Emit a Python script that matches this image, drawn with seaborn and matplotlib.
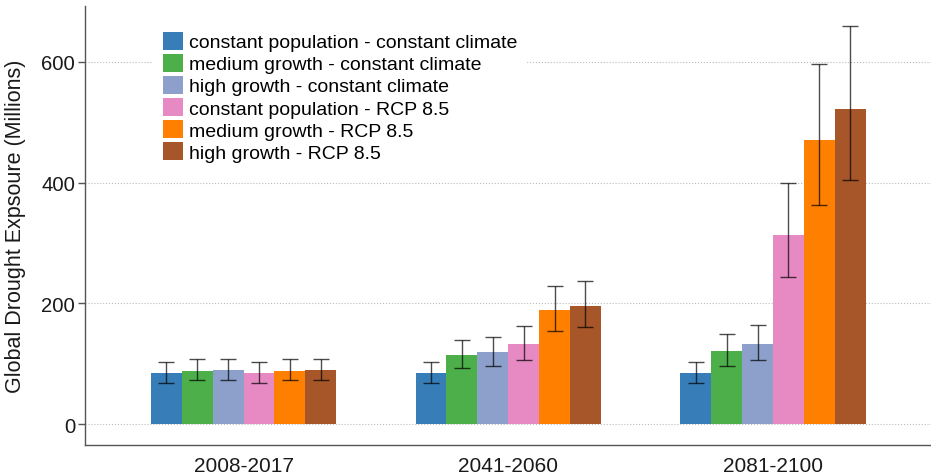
import matplotlib
matplotlib.use("Agg")
import matplotlib.pyplot as plt
import seaborn as sns
import pandas as pd
import numpy as np

periods = ["2008-2017", "2041-2060", "2081-2100"]
scenarios = [
    "constant population - constant climate",
    "medium growth - constant climate",
    "high growth - constant climate",
    "constant population - RCP 8.5",
    "medium growth - RCP 8.5",
    "high growth - RCP 8.5",
]
colors = ["#377eb8", "#4daf4a", "#8da0cb", "#e78ac3", "#ff7f00", "#a65628"]

# values[scenario][period]
values = [
    [85, 85, 85],
    [89, 115, 121],
    [90, 119, 133],
    [85, 133, 314],
    [89, 190, 471],
    [90, 196, 522],
]
lower = [
    [69, 69, 69],
    [73, 93, 96],
    [73, 96, 107],
    [69, 106, 244],
    [73, 155, 363],
    [73, 161, 404],
]
upper = [
    [103, 103, 103],
    [108, 140, 149],
    [108, 145, 164],
    [103, 163, 400],
    [108, 229, 596],
    [108, 237, 659],
]

rows = []
for si, s in enumerate(scenarios):
    for pi, p in enumerate(periods):
        rows.append({"period": p, "scenario": s, "value": values[si][pi]})
df = pd.DataFrame(rows)

plt.rcParams["font.family"] = ["Liberation Sans", "DejaVu Sans"]

fig = plt.figure(figsize=(9.31, 4.77), dpi=100)
ax = fig.add_axes([0.0918, 0.066, 1.0 - 0.0918, 0.9847 - 0.066])

sns.barplot(data=df, x="period", y="value", hue="scenario", order=periods,
            hue_order=scenarios, palette=colors, width=0.7, errorbar=None,
            saturation=1, linewidth=0, ax=ax)

bar_containers = list(ax.containers)
for si, cont in enumerate(bar_containers):
    xs = [b.get_x() + b.get_width() / 2 for b in cont]
    hs = [b.get_height() for b in cont]
    lo = [h - l for h, l in zip(hs, lower[si])]
    up = [u - h for h, u in zip(hs, upper[si])]
    ax.errorbar(xs, hs, yerr=[lo, up], fmt="none", ecolor="black", alpha=0.7,
                elinewidth=1.0, capsize=6.1, capthick=1.0, zorder=5)

ax.set_ylim(-33.4, 691.7)
ax.set_xlim(-0.597, 2.597)
ax.set_yticks([0, 200, 400, 600])
ax.yaxis.grid(True, linestyle=":", color="#bbbbbb", linewidth=0.8)
ax.xaxis.grid(False)
ax.set_axisbelow(True)

for side in ["top", "right"]:
    ax.spines[side].set_visible(False)
for side in ["left", "bottom"]:
    ax.spines[side].set_color("#555555")
    ax.spines[side].set_linewidth(1.0)

ax.tick_params(axis="y", length=5, width=1, color="#555555", pad=2.5,
               labelsize=14.6, labelcolor="#1a1a1a")
ax.tick_params(axis="x", length=0, pad=8, labelsize=15, labelcolor="#1a1a1a")
ax.set_xlabel("")
ax.set_ylabel("Global Drought Expsoure (Millions)", fontsize=15.5, labelpad=11,
              color="#1a1a1a")

handles, labels = ax.get_legend_handles_labels()
ax.legend(handles, labels, loc="upper left", bbox_to_anchor=(0.0798, 0.964),
          borderaxespad=0, borderpad=0.5, frameon=True, facecolor="white",
          edgecolor="none", framealpha=1, fancybox=False, fontsize=14,
          handlelength=1.06, handleheight=1.03, handletextpad=0.31,
          labelspacing=0.13, title=None)

fig.savefig("out.png", dpi=100)
